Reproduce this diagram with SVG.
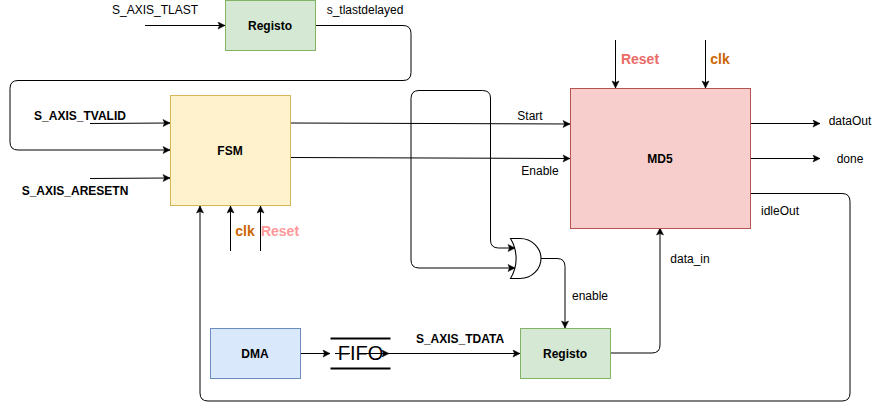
<svg xmlns="http://www.w3.org/2000/svg" width="872" height="409" viewBox="0 0 872 409">
<style>
text{font-family:"Liberation Sans",Arial,sans-serif;font-size:12px;fill:#000}
.b{font-weight:bold}
.c{text-anchor:middle}
.big{font-size:14px;font-weight:bold}
.w{fill:none;stroke:#000;stroke-width:1}
</style>
<defs>
<marker id="a" markerUnits="userSpaceOnUse" markerWidth="10" markerHeight="10" refX="8" refY="4" orient="auto">
<path d="M1 0.500L8 4L1 7.500L2.500 4Z" fill="#000" stroke="#000" stroke-width="0.5"/>
</marker>
</defs>
<rect width="872" height="409" fill="#fff"/>
<g id="connectors">
<path class="w" marker-end="url(#a)" d="M145 25.500H225"/>
<path class="w" d="M315 25.500H403Q411 25.500 411 33.500V72.500Q411 80.500 403 80.500H18Q10 80.500 10 88.500V142Q10 150 18 150H170" marker-end="url(#a)"/>
<path class="w" marker-end="url(#a)" d="M90 123.500L170 123"/>
<path class="w" marker-end="url(#a)" d="M90 178.500L170 178"/>
<path class="w" marker-end="url(#a)" d="M230.500 251V206"/>
<path class="w" marker-end="url(#a)" d="M260.500 251V206"/>
<path class="w" marker-end="url(#a)" d="M290 123L570 124"/>
<path class="w" marker-end="url(#a)" d="M290 157.500L570 158.500"/>
<path class="w" marker-end="url(#a)" d="M615.500 40V88"/>
<path class="w" marker-end="url(#a)" d="M705.500 40V88"/>
<path class="w" marker-end="url(#a)" d="M750 123.500H820"/>
<path class="w" marker-end="url(#a)" d="M750 158.500H820"/>
<path class="w" marker-end="url(#a)" d="M750 193.500H842Q850 193.500 850 201.500V393Q850 401 842 401H208Q200 401 200 393V206"/>
<path class="w" marker-end="url(#a)" d="M490.500 123V240Q490.500 248 498.500 248H515"/>
<path class="w" marker-end="url(#a)" d="M490.500 123V98Q490.500 90.500 482.500 90.500H419Q411 90.500 411 98.500V260Q411 268 419 268H515"/>
<path class="w" marker-end="url(#a)" d="M541 258.500H557Q565 258.500 565 266.500V328"/>
<path class="w" marker-end="url(#a)" d="M300 353.500H330"/>
<path class="w" marker-end="url(#a)" d="M381 353.500H389"/>
<path class="w" marker-end="url(#a)" d="M388 353.500H520"/>
<path class="w" marker-end="url(#a)" d="M610 353H652Q660 353 660 345V228"/>
</g>
<g id="registo-top"><rect x="225.500" y="0.500" width="90" height="50" fill="#d5e8d4" stroke="#82b366"/><text class="b c" x="270" y="30">Registo</text></g>
<g id="fsm"><rect x="170.500" y="95.500" width="120" height="110" fill="#fff2cc" stroke="#d6b656"/><text class="b c" x="230" y="155">FSM</text></g>
<g id="md5"><rect x="570.500" y="88.500" width="180" height="140" fill="#f8cecc" stroke="#b85450"/><text class="b c" x="660" y="163">MD5</text></g>
<g id="dma"><rect x="210.500" y="328.500" width="90" height="50" fill="#dae8fc" stroke="#6c8ebf"/><text class="b c" x="255" y="358">DMA</text></g>
<g id="registo-bottom"><rect x="520.500" y="328.500" width="90" height="50" fill="#d5e8d4" stroke="#82b366"/><text class="b c" x="565" y="358">Registo</text></g>
<g id="or-gate"><path d="M510.500 238.500H520C532 238.500 541 248 541 258.500C541 269 532 278.500 520 278.500H510.500C518 266 518 251 510.500 238.500Z" fill="#fff" stroke="#000" stroke-width="1.100"/></g>
<g id="fifo">
<path d="M330.500 338.500H390.500M330.500 368.500H390.500" stroke="#000" stroke-width="2" fill="none"/>
<path d="M335 353.500H350M365 353.500H383" stroke="#000" stroke-width="1"/>
<text class="c" x="360.500" y="360" style="font-size:20px">FIFO</text>
</g>
<g id="labels">
<text class="c" x="155" y="14">S_AXIS_TLAST</text>
<text class="c" x="365" y="14">s_tlastdelayed</text>
<text class="b c" x="80" y="120">S_AXIS_TVALID</text>
<text class="b c" x="75" y="195">S_AXIS_ARESETN</text>
<text class="big c" x="245" y="236" style="fill:#cc6600">clk</text>
<text class="big c" x="280" y="236" style="fill:#ff9999">Reset</text>
<text class="c" x="530" y="120">Start</text>
<text class="c" x="540" y="175">Enable</text>
<text class="big c" x="640" y="64" style="fill:#ea6b66">Reset</text>
<text class="big c" x="720" y="64" style="fill:#cc6600">clk</text>
<text class="c" x="850" y="125">dataOut</text>
<text class="c" x="850" y="163">done</text>
<text class="c" x="780" y="215">idleOut</text>
<text class="c" x="690" y="263">data_in</text>
<text class="c" x="590" y="300">enable</text>
<text class="b c" x="460" y="343">S_AXIS_TDATA</text>
</g>
</svg>
